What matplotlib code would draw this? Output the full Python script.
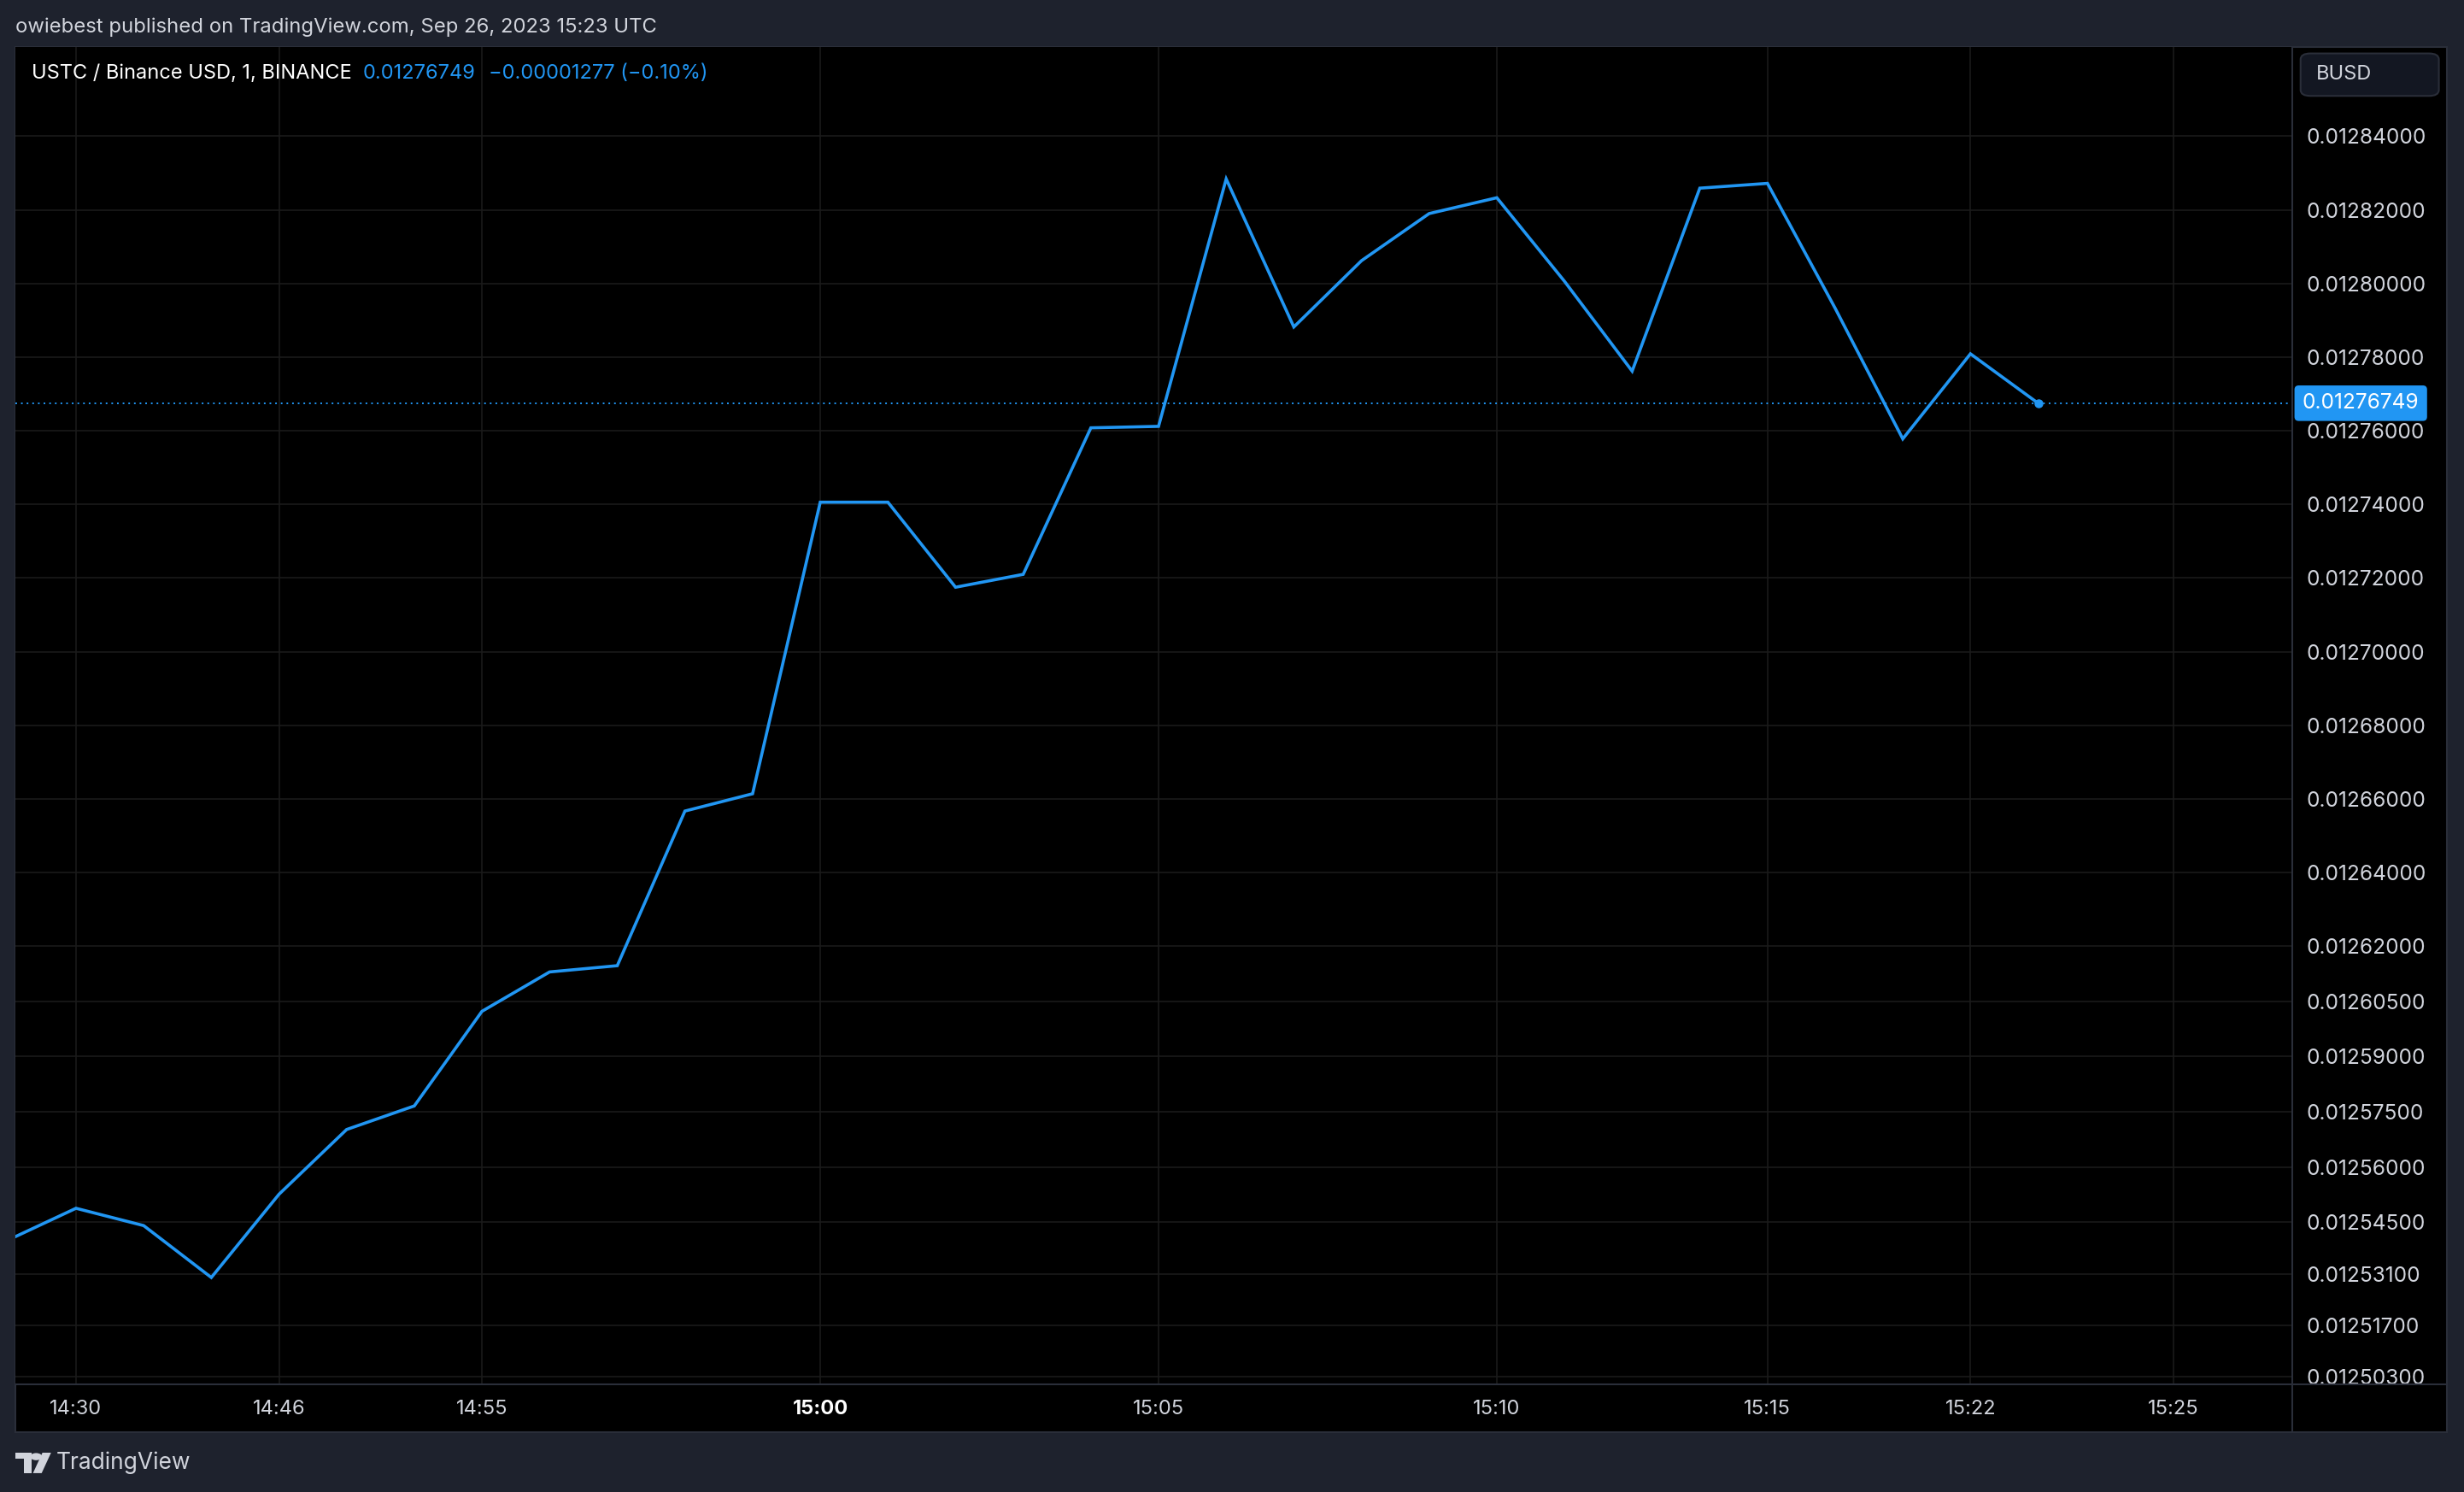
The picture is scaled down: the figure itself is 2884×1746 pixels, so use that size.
import matplotlib
matplotlib.use('Agg')
import matplotlib.pyplot as plt
from matplotlib.lines import Line2D
from matplotlib.patches import FancyBboxPatch, Rectangle, Circle, Polygon

# one-minute closes, USTC/BUSD (bar index = position on the time axis)
prices = [0.0125402, 0.0125488, 0.0125441, 0.0125300, 0.0125526, 0.0125702,
          0.0125766, 0.0126023, 0.0126130, 0.0126147, 0.0126567, 0.0126614,
          0.0127406, 0.0127406, 0.0127175, 0.0127210, 0.0127608, 0.0127612,
          0.0128284, 0.0127882, 0.0128062, 0.0128190, 0.0128233, 0.0128006,
          0.0127762, 0.0128259, 0.0128272, 0.0127933, 0.0127578, 0.0127809,
          0.01276749]
last_price = 0.01276749
time_ticks = [1, 4, 7, 12, 17, 22, 26, 29, 32]
time_labels = ['14:30', '14:46', '14:55', '15:00', '15:05', '15:10', '15:15', '15:22', '15:25']
price_ticks = [0.01284, 0.01282, 0.0128, 0.01278, 0.01276, 0.01274, 0.01272, 0.0127,
               0.01268, 0.01266, 0.01264, 0.01262, 0.012605, 0.01259, 0.012575,
               0.01256, 0.012545, 0.012531, 0.012517, 0.012503]

BG = '#1e222d'
BORDER = '#2a2e39'
GRID = '#1a1a1a'
BLUE = '#2196f3'
TXT = '#d1d4dc'

plt.rcParams['font.family'] = ['Inter', 'DejaVu Sans']

W, H = 1568, 949  # layout measured on a 1568 wide copy


def fx(px):
    return px / W


def fy(py):
    return 1 - py / H


fig = plt.figure(figsize=(28.84, 17.46), dpi=100, facecolor=BG)

# chart panel background
panel = fig.add_axes([fx(10), fy(911), fx(1557) - fx(10), fy(30) - fy(911)])
panel.set_facecolor('black')
panel.set_xticks([])
panel.set_yticks([])
for s in panel.spines.values():
    s.set_color(BORDER)
    s.set_linewidth(1.5)

ax = fig.add_axes([fx(10), fy(880), fx(1458) - fx(10), fy(30) - fy(880)])
ax.set_facecolor('black')
for s in ax.spines.values():
    s.set_visible(False)

x = list(range(len(prices)))
ax.plot(x, prices, color=BLUE, lw=2.6, solid_joinstyle='miter', zorder=3)
ax.plot(x[-1], prices[-1], 'o', color=BLUE, ms=6.5, zorder=4)
ax.axhline(last_price, color=BLUE, lw=1.4, ls=(0, (1, 2.4)), zorder=2)

ax.set_xlim(0.109, 33.74)
ax.set_ylim(0.0125012, 0.0128642)

ax.set_yticks(price_ticks)
ax.set_yticklabels([f'{v:.8f}' for v in price_ticks])
ax.yaxis.tick_right()
ax.tick_params(axis='y', length=0, pad=13, labelsize=17.6, labelcolor=TXT)

ax.set_xticks(time_ticks)
ax.set_xticklabels(time_labels)
ax.tick_params(axis='x', length=0, pad=14, labelsize=17, labelcolor=TXT)
for lbl in ax.get_xticklabels():
    if lbl.get_text() == '15:00':
        lbl.set_fontweight('bold')
        lbl.set_color('white')

ax.grid(True, color=GRID, lw=1.2)
ax.set_axisbelow(True)

# last price tag on the price scale
ax.annotate(f'{last_price:.8f}', xy=(1.0, last_price), xycoords=('axes fraction', 'data'),
            xytext=(9.5, 0), textcoords='offset points', ha='left', va='center',
            fontsize=17.6, color='white', annotation_clip=False,
            bbox=dict(boxstyle='round,pad=0.38,rounding_size=0.2', fc=BLUE, ec='none'))

# separators between plot and scales
fig.add_artist(Line2D([fx(1458.5), fx(1458.5)], [fy(30), fy(911)], color=BORDER, lw=1.5))
fig.add_artist(Line2D([fx(10), fx(1557)], [fy(880.5), fy(880.5)], color=BORDER, lw=1.5))

# currency box
fig.add_artist(FancyBboxPatch((fx(1464), fy(61)), fx(1552) - fx(1464), fy(34) - fy(61),
                              boxstyle='round,pad=0,rounding_size=0.004',
                              fc='#131722', ec=BORDER, lw=1.5, transform=fig.transFigure))
fig.text(fx(1474), fy(47.5), 'BUSD', fontsize=17, color=TXT, va='center', ha='left')

# header texts
fig.text(fx(10), fy(17), 'owiebest published on TradingView.com, Sep 26, 2023 15:23 UTC',
         fontsize=17.2, color=TXT, va='center', ha='left')
fig.text(fx(20), fy(46.5), 'USTC / Binance USD, 1, BINANCE',
         fontsize=17, color='white', va='center', ha='left')
fig.text(fx(231), fy(46.5), '0.01276749', fontsize=17, color=BLUE, va='center', ha='left')
fig.text(fx(311), fy(46.5), '\u22120.00001277 (\u22120.10%)', fontsize=17, color=BLUE,
         va='center', ha='left')

# TradingView logo
logo = '#d1d4dc'
fig.add_artist(Rectangle((fx(10), fy(928)), fx(20) - fx(10), fy(924) - fy(928),
                         fc=logo, ec='none', transform=fig.transFigure))
fig.add_artist(Rectangle((fx(15), fy(937)), fx(20) - fx(15), fy(924) - fy(937),
                         fc=logo, ec='none', transform=fig.transFigure))
fig.add_artist(Circle((fx(23), fy(926.5)), 2.4 / H * 0.95, fc=logo, ec='none',
                      transform=fig.transFigure))
fig.add_artist(Polygon([(fx(27), fy(924)), (fx(32.5), fy(924)), (fx(26.5), fy(937)), (fx(21), fy(937))],
                       closed=True, fc=logo, ec='none', transform=fig.transFigure))
fig.text(fx(36), fy(930.5), 'TradingView', fontsize=19, color=logo, va='center', ha='left')

fig.savefig('out.png', dpi=100, facecolor=BG)
